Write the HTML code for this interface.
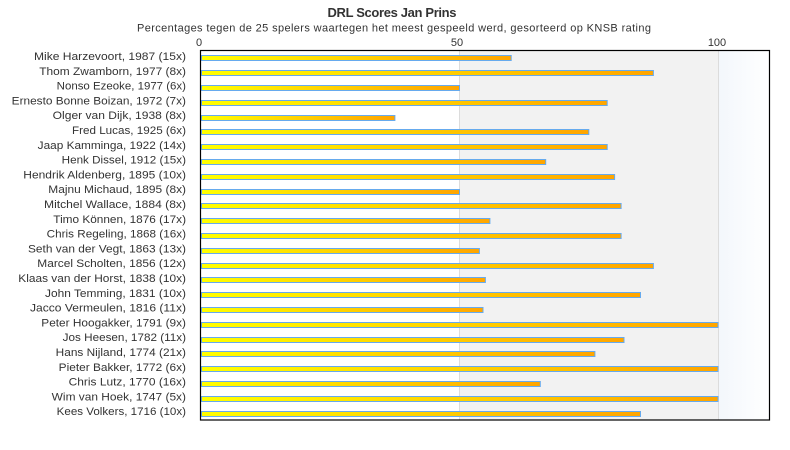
<!DOCTYPE html>
<html><head><meta charset="utf-8"><style>
html,body{margin:0;padding:0;background:#fff;}
svg{display:block;}
text{font-family:"Liberation Sans",sans-serif;fill:#333;}
</style></head><body>
<svg width="790" height="450" viewBox="0 0 790 450" xmlns="http://www.w3.org/2000/svg">
<defs>
<linearGradient id="bar" x1="0" y1="0" x2="1" y2="0">
<stop offset="0" stop-color="#ffff00"/><stop offset="1" stop-color="#ffa500"/>
</linearGradient>
<linearGradient id="bg3" x1="0" y1="0" x2="1" y2="0">
<stop offset="0" stop-color="#f3f7fc"/><stop offset="1" stop-color="#ffffff"/>
</linearGradient>
</defs>
<rect width="790" height="450" fill="#fff"/>
<text x="392" y="17" text-anchor="middle" font-size="13" font-weight="bold" textLength="129">DRL Scores Jan Prins</text>
<text x="394" y="31.5" text-anchor="middle" font-size="11" textLength="514">Percentages tegen de 25 spelers waartegen het meest gespeeld werd, gesorteerd op KNSB rating</text>
<text x="199" y="46" text-anchor="middle" font-size="11">0</text>
<text x="457" y="46" text-anchor="middle" font-size="11">50</text>
<text x="717" y="46" text-anchor="middle" font-size="11">100</text>

<rect x="459.5" y="50" width="258.5" height="370" fill="#f2f2f2"/>
<rect x="718" y="50" width="52" height="370" fill="url(#bg3)"/>
<line x1="459.5" y1="50" x2="459.5" y2="420" stroke="#dcdcdc" stroke-width="1"/>
<line x1="718.5" y1="50" x2="718.5" y2="420" stroke="#dcdcdc" stroke-width="1"/>

<g stroke="#66aaee" stroke-width="1" fill="url(#bar)">
<rect x="201.5" y="55.5" width="309.7" height="5"/>
<rect x="201.5" y="70.5" width="451.9" height="5"/>
<rect x="201.5" y="85.5" width="258" height="5"/>
<rect x="201.5" y="100.5" width="405.7" height="5"/>
<rect x="201.5" y="115.5" width="193.4" height="5"/>
<rect x="201.5" y="129.5" width="387.3" height="5"/>
<rect x="201.5" y="144.5" width="405.7" height="5"/>
<rect x="201.5" y="159.5" width="344.2" height="5"/>
<rect x="201.5" y="174.5" width="413.1" height="5"/>
<rect x="201.5" y="189.5" width="258" height="5"/>
<rect x="201.5" y="203.5" width="419.6" height="5"/>
<rect x="201.5" y="218.5" width="288.4" height="5"/>
<rect x="201.5" y="233.5" width="419.6" height="5"/>
<rect x="201.5" y="248.5" width="277.9" height="5"/>
<rect x="201.5" y="263.5" width="451.9" height="5"/>
<rect x="201.5" y="277.5" width="283.9" height="5"/>
<rect x="201.5" y="292.5" width="439" height="5"/>
<rect x="201.5" y="307.5" width="281.5" height="5"/>
<rect x="201.5" y="322.5" width="516.5" height="5"/>
<rect x="201.5" y="337.5" width="422.5" height="5"/>
<rect x="201.5" y="351.5" width="393.4" height="5"/>
<rect x="201.5" y="366.5" width="516.5" height="5"/>
<rect x="201.5" y="381.5" width="338.8" height="5"/>
<rect x="201.5" y="396.5" width="516.5" height="5"/>
<rect x="201.5" y="411.5" width="439" height="5"/>
</g>

<rect x="200.5" y="50.5" width="569" height="369.5" fill="none" stroke="#000" stroke-width="1.2"/>

<g font-size="11" text-anchor="end">
<text x="186" y="60" textLength="152" lengthAdjust="spacingAndGlyphs">Mike Harzevoort, 1987 (15x)</text>
<text x="186" y="74.8" textLength="146.7" lengthAdjust="spacingAndGlyphs">Thom Zwamborn, 1977 (8x)</text>
<text x="186" y="89.6" textLength="129.3" lengthAdjust="spacingAndGlyphs">Nonso Ezeoke, 1977 (6x)</text>
<text x="186" y="104.4" textLength="174.3" lengthAdjust="spacingAndGlyphs">Ernesto Bonne Boizan, 1972 (7x)</text>
<text x="186" y="119.2" textLength="133.3" lengthAdjust="spacingAndGlyphs">Olger van Dijk, 1938 (8x)</text>
<text x="186" y="134" textLength="114" lengthAdjust="spacingAndGlyphs">Fred Lucas, 1925 (6x)</text>
<text x="186" y="148.8" textLength="148.3" lengthAdjust="spacingAndGlyphs">Jaap Kamminga, 1922 (14x)</text>
<text x="186" y="163.6" textLength="124.3" lengthAdjust="spacingAndGlyphs">Henk Dissel, 1912 (15x)</text>
<text x="186" y="178.4" textLength="162.7" lengthAdjust="spacingAndGlyphs">Hendrik Aldenberg, 1895 (10x)</text>
<text x="186" y="193.2" textLength="137.7" lengthAdjust="spacingAndGlyphs">Majnu Michaud, 1895 (8x)</text>
<text x="186" y="208" textLength="142" lengthAdjust="spacingAndGlyphs">Mitchel Wallace, 1884 (8x)</text>
<text x="186" y="222.8" textLength="132.7" lengthAdjust="spacingAndGlyphs">Timo Können, 1876 (17x)</text>
<text x="186" y="237.6" textLength="139.3" lengthAdjust="spacingAndGlyphs">Chris Regeling, 1868 (16x)</text>
<text x="186" y="252.4" textLength="158" lengthAdjust="spacingAndGlyphs">Seth van der Vegt, 1863 (13x)</text>
<text x="186" y="267.2" textLength="148.7" lengthAdjust="spacingAndGlyphs">Marcel Scholten, 1856 (12x)</text>
<text x="186" y="282" textLength="167.7" lengthAdjust="spacingAndGlyphs">Klaas van der Horst, 1838 (10x)</text>
<text x="186" y="296.8" textLength="141" lengthAdjust="spacingAndGlyphs">John Temming, 1831 (10x)</text>
<text x="186" y="311.6" textLength="156" lengthAdjust="spacingAndGlyphs">Jacco Vermeulen, 1816 (11x)</text>
<text x="186" y="326.4" textLength="144.7" lengthAdjust="spacingAndGlyphs">Peter Hoogakker, 1791 (9x)</text>
<text x="186" y="341.2" textLength="123.3" lengthAdjust="spacingAndGlyphs">Jos Heesen, 1782 (11x)</text>
<text x="186" y="356" textLength="130.3" lengthAdjust="spacingAndGlyphs">Hans Nijland, 1774 (21x)</text>
<text x="186" y="370.8" textLength="127.3" lengthAdjust="spacingAndGlyphs">Pieter Bakker, 1772 (6x)</text>
<text x="186" y="385.6" textLength="117.3" lengthAdjust="spacingAndGlyphs">Chris Lutz, 1770 (16x)</text>
<text x="186" y="400.4" textLength="134.3" lengthAdjust="spacingAndGlyphs">Wim van Hoek, 1747 (5x)</text>
<text x="186" y="415.2" textLength="129.3" lengthAdjust="spacingAndGlyphs">Kees Volkers, 1716 (10x)</text>
</g>
</svg>
</body></html>
